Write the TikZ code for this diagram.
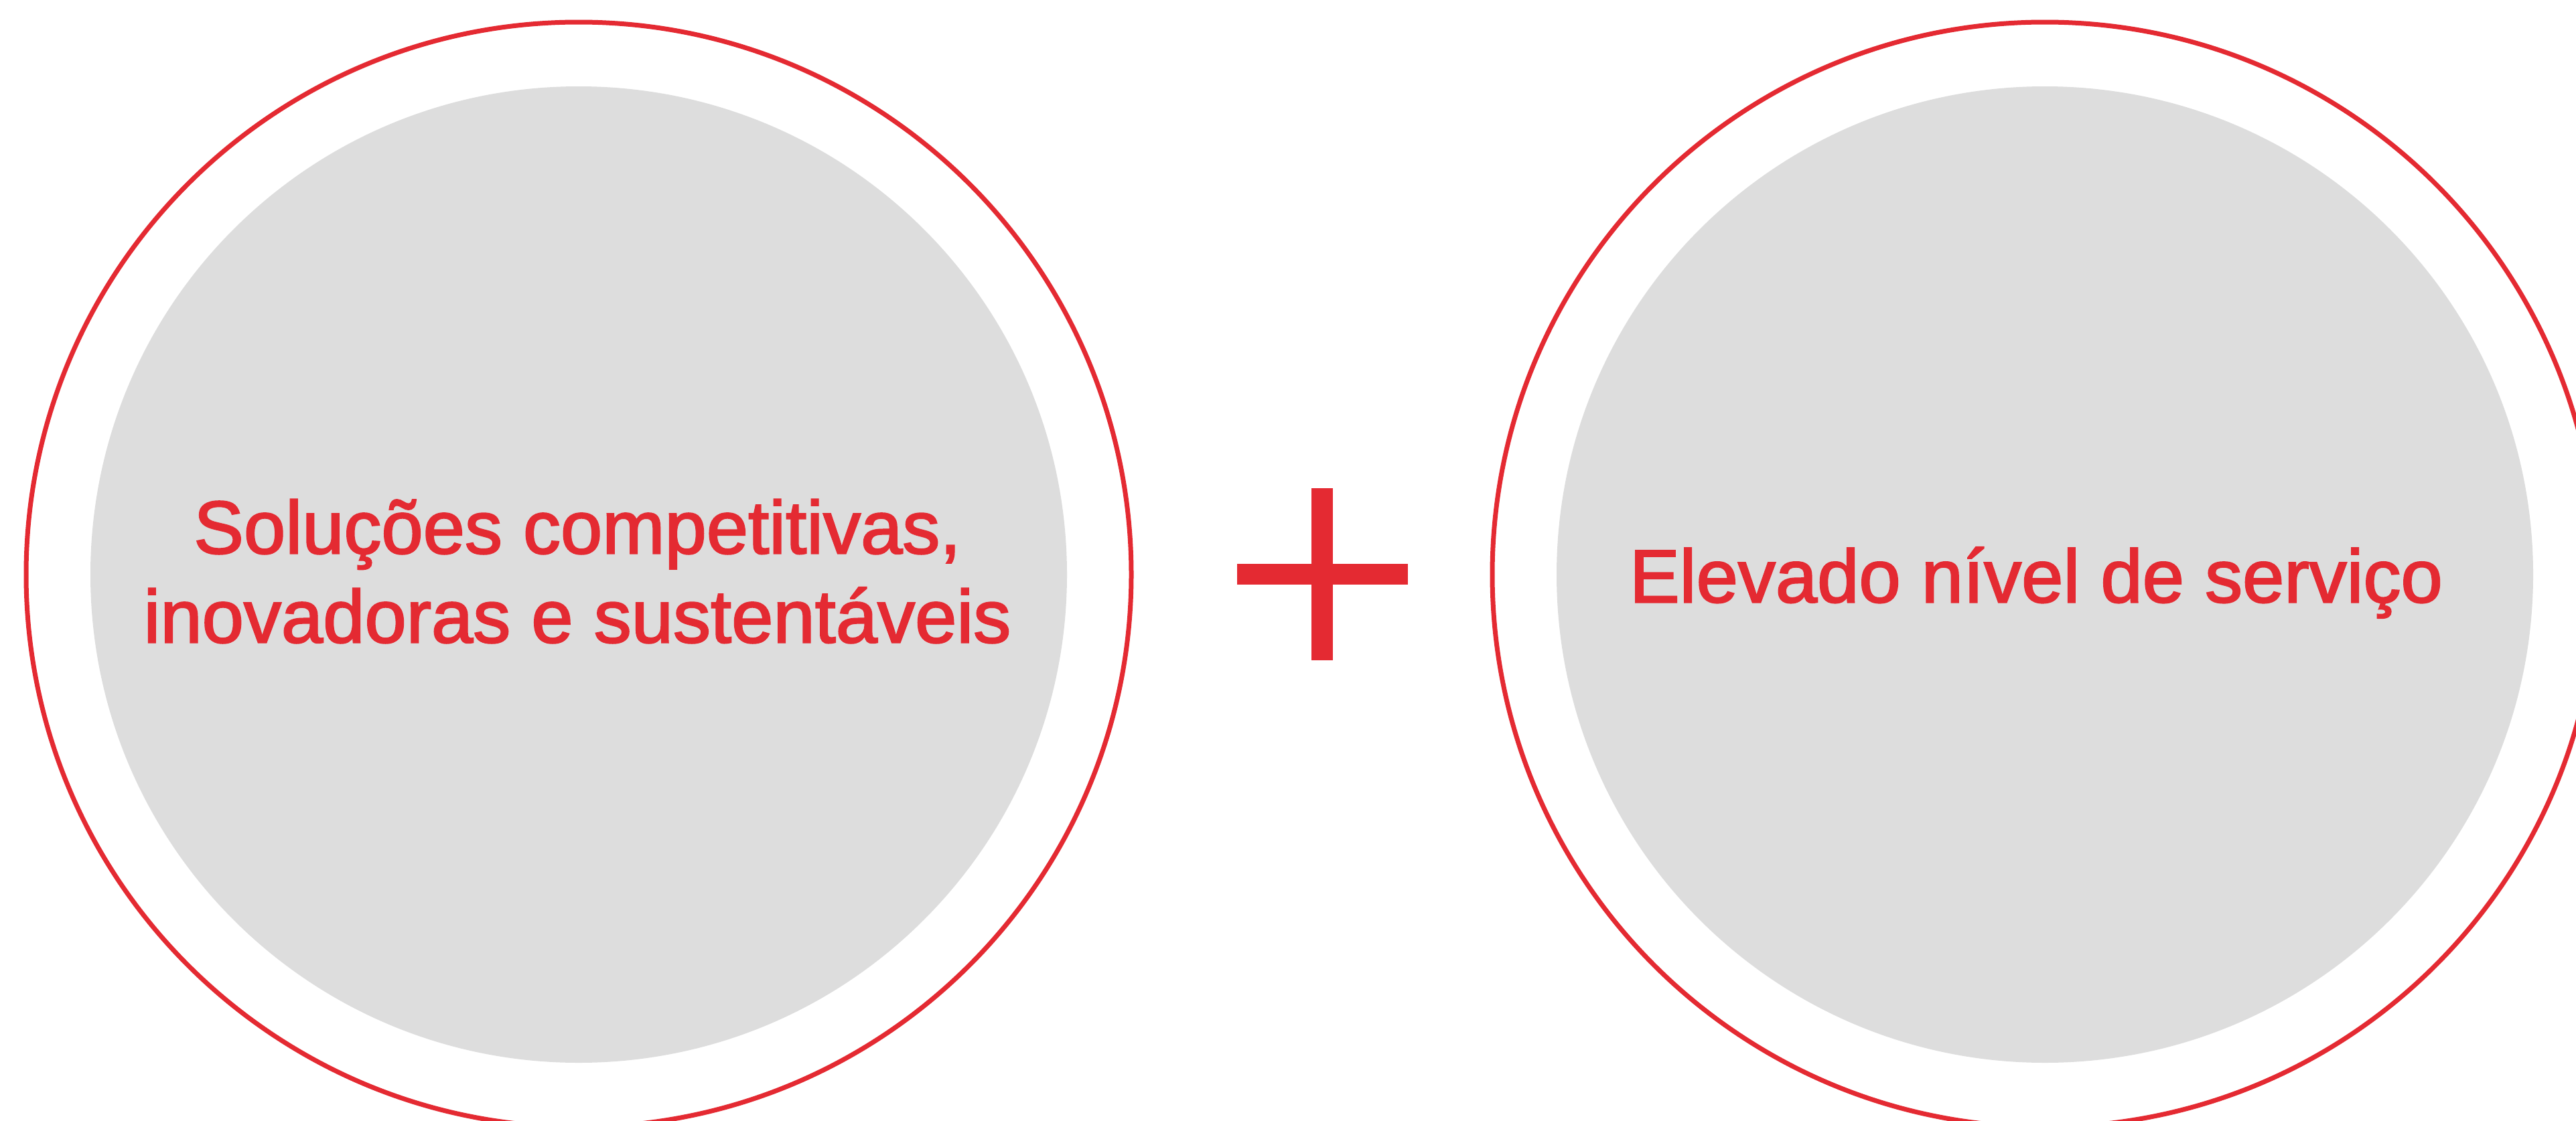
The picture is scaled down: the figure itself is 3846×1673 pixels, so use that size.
\documentclass[tikz,border=0pt]{standalone}
\usepackage{fontspec}
\setmainfont{Liberation Sans}[FakeBold=2]
\definecolor{brandred}{HTML}{E42A32}
\definecolor{discgray}{HTML}{DDDDDD}
\begin{document}
\begin{tikzpicture}[x=1pt,y=-1pt,
  ring/.style={circle, draw=brandred, line width=7pt, inner sep=0pt, minimum size=1650pt},
  disc/.style={circle, fill=discgray, inner sep=0pt, minimum size=1458pt},
  bar/.style={fill=brandred},
  label/.style={text=brandred, align=center, inner sep=0pt, font=\fontsize{112}{133}\selectfont}]
\useasboundingbox (0,0) rectangle (3846,1673);
\clip (0,0) rectangle (3846,1673);
\fill[white] (0,0) rectangle (3846,1673);
% left
\node[ring] (lring) at (864,858) {};
\node[disc] (ldisc) at (864,858) {};
\node[label] (ltext) at (862,853) {Soluções competitivas,\\inovadoras e sustentáveis};
% plus
\coordinate (ph1) at (1847,842);
\coordinate (ph2) at (2102,873);
\coordinate (pv1) at (1958,729);
\coordinate (pv2) at (1990,986);
\fill[bar] (ph1) rectangle (ph2);
\fill[bar] (pv1) rectangle (pv2);
% right
\node[ring] (rring) at (3053,858) {};
\node[disc] (rdisc) at (3053,858) {};
\node[label] (rtext) at (3040,870) {Elevado nível de serviço};
\end{tikzpicture}
\end{document}
